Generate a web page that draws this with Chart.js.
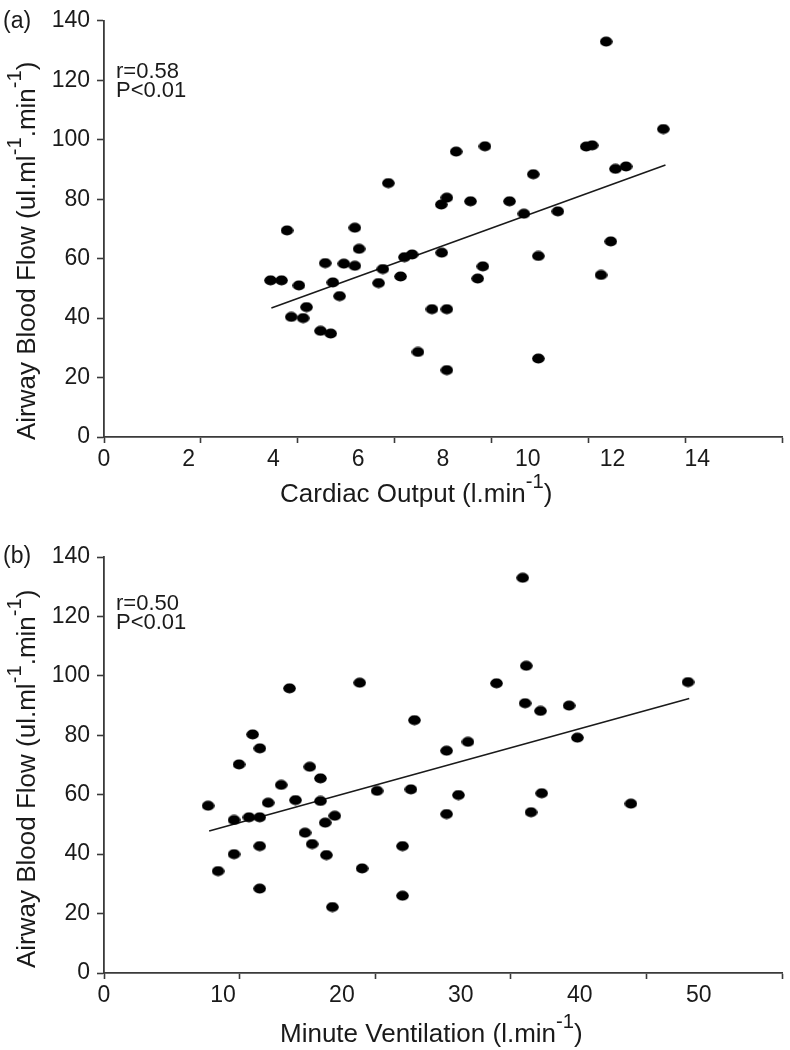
<!DOCTYPE html>
<html>
<head>
<meta charset="utf-8">
<script src="https://cdn.jsdelivr.net/npm/chart.js@4.4.0/dist/chart.umd.min.js"></script>
<style>
body { margin:0; background:#fff; width:790px; height:1050px; position:relative; overflow:hidden;
       font-family:"Liberation Sans", Arial, sans-serif; color:#1a1a1a; }
.box { position:absolute; left:0; width:790px; height:525px; }
.txt { position:absolute; white-space:nowrap; }
.title { font-size:26px; line-height:26px; }
.ytitle { transform:rotate(-90deg); transform-origin:0 0; }
.panel { font-size:23px; line-height:23px; }
.stat { font-size:22px; line-height:19px; }
sup { font-size:0.78em; vertical-align:0; position:relative; top:-0.68em; }
</style>
</head>
<body>
<div class="box" style="top:0"><canvas id="chartA" width="790" height="525"></canvas></div>
<div class="box" style="top:525px"><canvas id="chartB" width="790" height="525"></canvas></div>

<div class="txt panel" style="left:3px;top:9px">(a)</div>
<div class="txt stat" style="left:116px;top:61px">r=0.58<br>P&lt;0.01</div>
<div class="txt title ytitle" style="left:13px;top:440px">Airway Blood Flow (ul.ml<sup>-1</sup>.min<sup>-1</sup>)</div>
<div class="txt title" style="left:280px;top:480px">Cardiac Output (l.min<sup>-1</sup>)</div>

<div class="txt panel" style="left:3px;top:544px">(b)</div>
<div class="txt stat" style="left:116px;top:593px">r=0.50<br>P&lt;0.01</div>
<div class="txt title ytitle" style="left:13px;top:968px">Airway Blood Flow (ul.ml<sup>-1</sup>.min<sup>-1</sup>)</div>
<div class="txt title" style="left:280px;top:1020px">Minute Ventilation (l.min<sup>-1</sup>)</div>

<script>
// (a) cardiac output vs airway blood flow
var coX = [3.93, 4.19, 4.32, 4.60, 4.42, 4.70, 4.78, 5.22, 5.11, 5.35, 5.40, 5.66, 5.92, 5.56, 5.92, 6.02,
           6.48, 6.58, 6.71, 7.00, 7.09, 7.27, 7.41, 7.74, 8.09, 8.09, 7.97, 7.96, 8.09, 8.31, 8.65, 8.82,
           8.94, 8.99, 9.57, 9.91, 10.13, 10.25, 10.25, 10.71, 11.38, 11.52, 11.73, 11.85, 11.96, 12.07, 12.32, 13.2];
var coY = [52.7, 52.7, 69.5, 51.0, 40.4, 40.0, 43.7, 58.5, 35.7, 34.8, 52.0, 58.3, 57.6, 47.4, 70.4, 63.3,
           51.8, 56.5, 85.4, 54.0, 60.5, 61.4, 28.6, 43.0, 43.0, 22.5, 62.0, 78.2, 80.5, 96.0, 79.3, 53.3,
           57.4, 97.8, 79.3, 75.1, 88.4, 60.9, 26.4, 75.9, 97.7, 98.1, 54.5, 133.0, 65.8, 90.2, 91.0, 103.6];
var coFitX = [3.95, 13.25];
var coFitY = [43.4, 91.5];

// (b) minute ventilation vs airway blood flow
var veX = [15.6, 21.5, 12.5, 13.1, 11.35, 17.3, 18.2, 14.9, 8.75, 10.93, 12.19, 13.09, 13.8, 16.1, 18.2, 19.4,
           18.6, 16.9, 17.5, 18.7, 10.93, 9.59, 13.09, 13.09, 19.2, 21.7, 22.96, 25.1, 25.1, 35.2, 35.5, 33.0,
           49.1, 35.4, 36.7, 39.1, 26.1, 39.8, 28.8, 30.6, 25.8, 29.8, 28.8, 35.9, 36.8, 44.3];
var veY = [95.8, 97.7, 80.3, 75.6, 70.2, 69.4, 65.5, 63.3, 56.3, 51.5, 52.4, 52.4, 57.3, 58.2, 57.9, 52.9,
           50.6, 47.2, 43.4, 39.7, 40.0, 34.3, 42.7, 28.4, 22.2, 35.2, 61.3, 42.7, 26.0, 133.0, 103.4, 97.5,
           97.9, 90.8, 88.2, 90.0, 85.1, 79.2, 74.8, 77.8, 61.8, 59.9, 53.5, 54.1, 60.5, 57.0];
var veFitX = [8.84, 49.2];
var veFitY = [47.8, 92.4];

var yTicks = [0, 20, 40, 60, 80, 100, 120, 140];
var coTickLabels = [0, 2, 4, 6, 8, 10, 12, 14];
var veTickLabels = [0, 10, 20, 30, 40, 50];
var coMax = 16, veMax = 57;
// in the original the x tick marks are not where the numbers are
var coMarks = 7, veMarks = 5;

var FONT = '"Liberation Sans", Arial, sans-serif';
var INK = '#1a1a1a';
var AXIS = '#3a3a3a';

function toPoints(xs, ys) {
    var out = [];
    for (var i = 0; i < xs.length; i++) out.push({x: xs[i], y: ys[i]});
    return out;
}

// slightly wide oval dot, like the printed markers
function makeDot() {
    var c = document.createElement('canvas');
    c.width = 13; c.height = 11;
    var g = c.getContext('2d');
    g.fillStyle = '#000';
    g.beginPath();
    g.ellipse(6.5, 5.5, 6.3, 5.1, 0, 0, Math.PI * 2);
    g.fill();
    return c;
}
var dot = makeDot();

function buildTicks(labelVals, max, markCount) {
    var list = [];
    labelVals.forEach(function (v) { list.push({value: v, label: String(v), mark: false}); });
    for (var k = 0; k <= markCount; k++) {
        var v = max * k / markCount;
        var hit = list.find(function (t) { return Math.abs(t.value - v) < 1e-6; });
        if (hit) hit.mark = true;
        else list.push({value: v, label: '', mark: true});
    }
    list.sort(function (a, b) { return a.value - b.value; });
    return list;
}

function makeChart(id, xs, ys, fitX, fitY, xMax, labelVals, markCount, padTop, xAxisH) {
    var xList = buildTicks(labelVals, xMax, markCount);
    return new Chart(id, {
        type: 'scatter',
        data: {
            datasets: [
                {
                    data: toPoints(xs, ys),
                    pointStyle: dot,
                    pointRadius: 6,
                    backgroundColor: '#000',
                    borderWidth: 0
                },
                {
                    data: toPoints(fitX, fitY),
                    showLine: true,
                    pointRadius: 0,
                    borderColor: INK,
                    borderWidth: 1.6
                }
            ]
        },
        options: {
            responsive: false,
            animation: false,
            events: [],
            layout: {padding: {top: padTop, right: 8, left: 0, bottom: 0}},
            plugins: {legend: {display: false}, tooltip: {enabled: false}},
            scales: {
                x: {
                    type: 'linear',
                    min: 0,
                    max: xMax,
                    afterFit: function (s) { s.height = xAxisH; },
                    afterBuildTicks: function (s) {
                        s.ticks = xList.map(function (t) { return {value: t.value}; });
                    },
                    ticks: {
                        autoSkip: false,
                        maxRotation: 0,
                        padding: 3,
                        color: INK,
                        font: {family: FONT, size: 23},
                        callback: function (v, i) { return xList[i] ? xList[i].label : ''; }
                    },
                    grid: {
                        drawOnChartArea: false,
                        tickLength: 6,
                        tickWidth: 1.6,
                        tickColor: function (ctx) {
                            return xList[ctx.index] && xList[ctx.index].mark ? AXIS : 'rgba(0,0,0,0)';
                        }
                    },
                    border: {color: AXIS, width: 1.8}
                },
                y: {
                    min: 0,
                    max: 140,
                    afterFit: function (s) { s.width = 104; },
                    afterBuildTicks: function (s) {
                        s.ticks = yTicks.map(function (v) { return {value: v}; });
                    },
                    ticks: {
                        padding: 7,
                        color: INK,
                        font: {family: FONT, size: 23}
                    },
                    grid: {
                        drawOnChartArea: false,
                        tickLength: 7,
                        tickWidth: 1.6,
                        tickColor: AXIS
                    },
                    border: {color: AXIS, width: 1.8}
                }
            }
        }
    });
}

var chartA = makeChart('chartA', coX, coY, coFitX, coFitY, coMax, coTickLabels, coMarks, 20, 88);
var chartB = makeChart('chartB', veX, veY, veFitX, veFitY, veMax, veTickLabels, veMarks, 32, 77);
</script>
</body>
</html>
